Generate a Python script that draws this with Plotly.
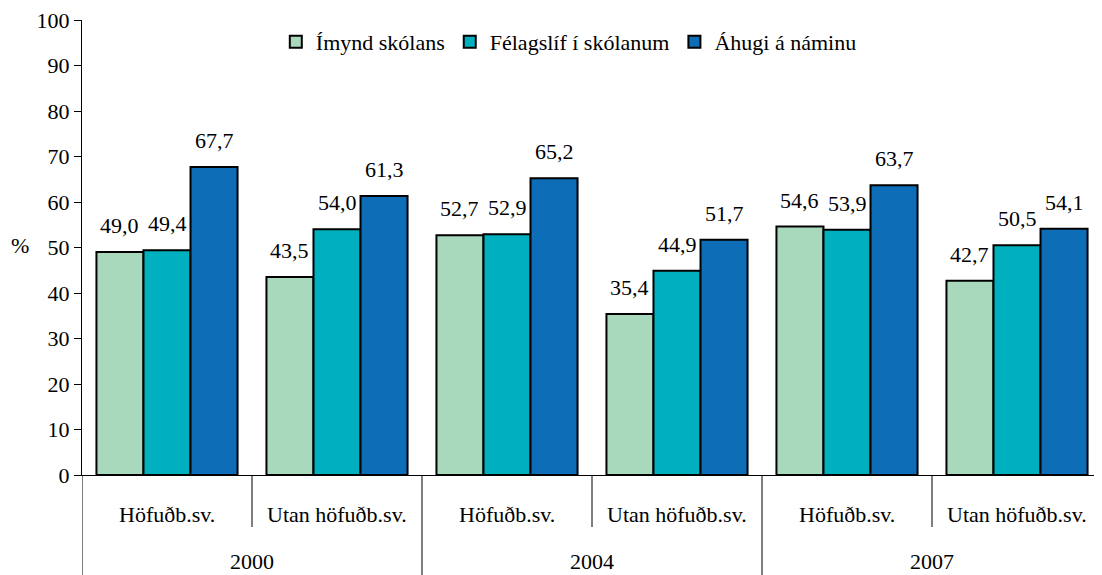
import plotly.graph_objects as go

years = ["2000", "2004", "2007"]
regions = ["Höfuðb.sv.", "Utan höfuðb.sv."]
categories = [f"{y} {r}" for y in years for r in regions]
series_names = ["Ímynd skólans", "Félagslíf í skólanum", "Áhugi á náminu"]
imynd = [49.0, 43.5, 52.7, 35.4, 54.6, 42.7]
felagslif = [49.4, 54.0, 52.9, 44.9, 53.9, 50.5]
ahugi = [67.7, 61.3, 65.2, 51.7, 63.7, 54.1]
colors = ["#A9D9BD", "#00B0BE", "#0D6DB6"]

FONT = "Liberation Serif"
FS = 22
W, H = 1094, 567
ML, MR, MT, MB = 74, 0, 12, 100
PW = W - ML - MR
PH = H - MT - MB
BARGAP = 0.17


def tf():
    return dict(family=FONT, size=FS, color="black")


fig = go.Figure()
for name, vals, col in zip(series_names, [imynd, felagslif, ahugi], colors):
    fig.add_trace(go.Bar(
        x=categories, y=vals, name=name,
        marker=dict(color=col, line=dict(color="black", width=2)),
    ))

# value labels above bars
ncat = len(categories)
bar_px = PW / ncat * (1 - BARGAP) / len(series_names)
for i, vals in enumerate([imynd, felagslif, ahugi]):
    for c, v in zip(categories, vals):
        fig.add_annotation(x=c, y=v, xref="x", yref="y", text=f"{v:.1f}".replace(".", ","),
                           showarrow=False, xanchor="center", yanchor="bottom",
                           xshift=(i - 1) * bar_px, yshift=12, font=tf())

# category labels
for k, c in enumerate(categories):
    reg = regions[k % len(regions)]
    fig.add_annotation(x=c, y=-40 / PH, xref="x", yref="paper", text=reg, showarrow=False,
                       xanchor="center", yanchor="middle", font=tf())
for j, yr in enumerate(years):
    fig.add_annotation(x=j * len(regions) + (len(regions) - 1) / 2, y=-86 / PH, xref="x", yref="paper",
                       text=yr, showarrow=False, xanchor="center", yanchor="middle", font=tf())

# dividers
for j in range(len(years)):
    base = j * len(regions) - 0.5
    fig.add_shape(type="line", xref="x", yref="paper", x0=base, x1=base, y0=0, y1=-100 / PH,
                  line=dict(color="black", width=1))
    for s in range(1, len(regions)):
        fig.add_shape(type="line", xref="x", yref="paper", x0=base + s, x1=base + s, y0=0, y1=-52 / PH,
                      line=dict(color="black", width=1))

fig.add_annotation(text="%", xref="paper", yref="y", x=-62 / PW, y=50.5, showarrow=False,
                   xanchor="center", yanchor="middle", font=tf())

fig.update_layout(
    width=W, height=H,
    margin=dict(l=ML, r=MR, t=MT, b=MB, autoexpand=False),
    plot_bgcolor="white", paper_bgcolor="white",
    barmode="group", bargap=BARGAP, bargroupgap=0,
    showlegend=True,
    legend=dict(orientation="h", x=0.19, y=1 - 1 / PH, xanchor="left", yanchor="top",
                font=tf(), bgcolor="rgba(0,0,0,0)"),
)
fig.update_yaxes(range=[0, 100], tickmode="linear", tick0=0, dtick=10, automargin=False,
                 showgrid=False, zeroline=False, showline=True, linecolor="black", linewidth=1,
                 ticks="outside", ticklen=7, tickcolor="black", tickfont=tf(),
                 ticklabeloverflow="allow")
fig.update_xaxes(showgrid=False, showline=True, linecolor="black", linewidth=1, automargin=False,
                 showticklabels=False, ticks="", range=[-0.5, ncat - 0.5])
fig.write_html("out.html")
